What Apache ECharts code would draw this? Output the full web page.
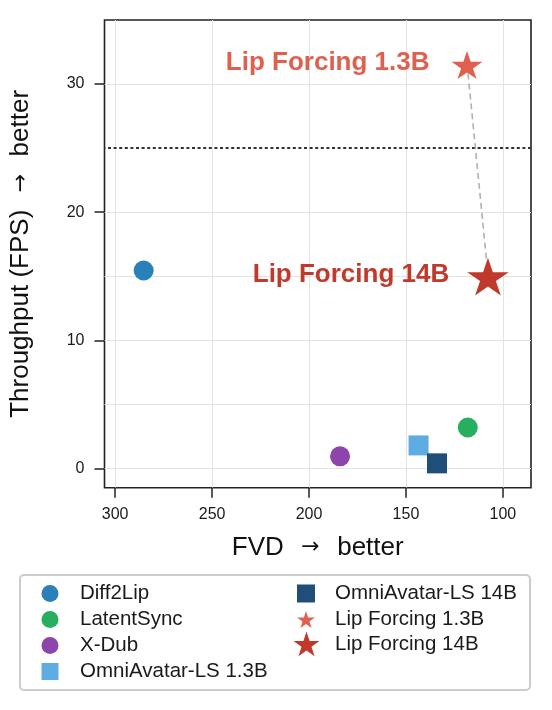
<!DOCTYPE html>
<html>
<head>
<meta charset="utf-8">
<script src="https://cdn.jsdelivr.net/npm/echarts@6/dist/echarts.min.js"></script>
<style>
  html, body { margin: 0; padding: 0; background: #fff; }
  #chart { width: 552px; height: 710px; }
</style>
</head>
<body>
<div id="chart"></div>
<script>
// ---- data ----
const methods = ['Diff2Lip', 'LatentSync', 'X-Dub', 'OmniAvatar-LS 1.3B', 'OmniAvatar-LS 14B', 'Lip Forcing 1.3B', 'Lip Forcing 14B'];
const fvd = [285.3, 118.1, 184.0, 143.5, 134.0, 118.5, 107.7];
const fps = [15.45, 3.2, 0.95, 1.8, 0.4, 31.6, 15.13];
const xTicks = [300, 250, 200, 150, 100];
const yTicks = [0, 10, 20, 30];
const yGridValues = [0, 5, 10, 15, 20, 25, 30];
const realtimeFps = 25;
const xTitle = 'FVD  {arr|\u2192}  better';
const yTitle = 'Throughput (FPS)  {arr|\u2192}  better';

// ---- styling ----
const FONT = 'Liberation Sans, Arial, Helvetica, sans-serif';
function starPath() {
  const pts = [];
  for (let i = 0; i < 10; i++) {
    const r = i % 2 === 0 ? 100 : 38.1966;
    const a = -Math.PI / 2 + i * Math.PI / 5;
    pts.push((r * Math.cos(a)).toFixed(3) + ',' + (r * Math.sin(a)).toFixed(3));
  }
  return 'path://M' + pts.join(' L') + ' Z';
}
const STAR = starPath();
const styles = {
  'Diff2Lip':           { color: '#2a80b9', symbol: 'circle', size: 20, legendIcon: 'circle' },
  'LatentSync':         { color: '#27ae60', symbol: 'circle', size: 20, legendIcon: 'circle' },
  'X-Dub':              { color: '#8e44ad', symbol: 'circle', size: 20, legendIcon: 'circle' },
  'OmniAvatar-LS 1.3B': { color: '#5dade2', symbol: 'rect', size: 20, legendIcon: 'rect' },
  'OmniAvatar-LS 14B':  { color: '#1f4e79', symbol: 'rect', size: 20, legendIcon: 'rect' },
  'Lip Forcing 1.3B':   { color: '#e0604f', symbol: STAR, size: [31, 29.5], offset: [0, 1.5], legendIcon: STAR,
                          label: { distance: 22, offset: [0, -2] } },
  'Lip Forcing 14B':    { color: '#c0392b', symbol: STAR, size: [41.5, 39.5], offset: [0, 2], legendIcon: STAR,
                          label: { distance: 18, offset: [0, -1.5] } }
};
const arrowRich = { arr: { fontFamily: 'DejaVu Sans', fontSize: 22, color: '#111', padding: [0, 3, 0, 3] } };

const chart = echarts.init(document.getElementById('chart'), null, { renderer: 'canvas' });

const series = [];
// grid lines
series.push({
  type: 'line',
  name: '__grid',
  data: [],
  silent: true,
  markLine: {
    silent: true,
    z: 0,
    symbol: ['none', 'none'],
    label: { show: false },
    lineStyle: { color: '#e3e3e3', width: 1, type: 'solid' },
    emphasis: { disabled: true },
    data: xTicks.map(v => ({ xAxis: v })).concat(yGridValues.filter(v => v !== realtimeFps).map(v => ({ yAxis: v })))
  }
});
// real-time threshold line
series.push({
  type: 'line',
  name: '__threshold',
  data: [],
  silent: true,
  markLine: {
    silent: true,
    z: 1,
    symbol: ['none', 'none'],
    label: { show: false },
    lineStyle: { color: '#333333', width: 2.2, type: [3, 2.6] },
    emphasis: { disabled: true },
    data: [{ yAxis: realtimeFps }]
  }
});
// dashed connector between the two Lip Forcing models
const i13 = methods.indexOf('Lip Forcing 1.3B');
const i14 = methods.indexOf('Lip Forcing 14B');
series.push({
  type: 'line',
  name: '__connector',
  data: [[fvd[i13], fps[i13]], [fvd[i14], fps[i14]]],
  symbol: 'none',
  silent: true,
  z: 2,
  lineStyle: { color: '#b0b0b0', width: 1.6, type: [6, 4] }
});
methods.forEach((m, i) => {
  const st = styles[m];
  const s = {
    type: 'scatter',
    name: m,
    z: 3,
    data: [[fvd[i], fps[i]]],
    symbol: st.symbol,
    symbolSize: st.size,
    symbolKeepAspect: true,
    itemStyle: { color: st.color, opacity: 1 },
    emphasis: { disabled: true }
  };
  if (st.offset) s.symbolOffset = st.offset;
  if (st.label) {
    s.label = {
      show: true,
      position: 'left',
      distance: st.label.distance,
      offset: st.label.offset,
      formatter: m,
      color: st.color,
      fontSize: 26,
      fontWeight: 'bold',
      fontFamily: FONT
    };
  }
  series.push(s);
});

const legendText = { fontSize: 20.5, color: '#1a1a1a', fontFamily: FONT };
function legendData(names) {
  return names.map(n => ({ name: n, icon: styles[n].legendIcon }));
}

const option = {
  animation: false,
  backgroundColor: '#ffffff',
  textStyle: { fontFamily: FONT },
  grid: {
    left: 104, right: 21, top: 20, bottom: 222.3,
    show: true, borderColor: '#222222', borderWidth: 1.6, backgroundColor: 'transparent'
  },
  xAxis: {
    type: 'value',
    min: 85.5, max: 305.5,
    inverse: true,
    name: xTitle,
    nameLocation: 'middle',
    nameGap: 47,
    nameTextStyle: { fontSize: 26, color: '#111', fontFamily: FONT, rich: arrowRich },
    axisLine: { show: false, onZero: false },
    splitLine: { show: false },
    axisTick: { show: true, customValues: xTicks, length: 10, lineStyle: { color: '#222', width: 1.5 } },
    axisLabel: { customValues: xTicks, fontSize: 16, color: '#1a1a1a', margin: 19, fontFamily: FONT }
  },
  yAxis: {
    type: 'value',
    min: -1.5, max: 35,
    name: yTitle,
    nameLocation: 'middle',
    nameGap: 70.5,
    nameTextStyle: { fontSize: 26, color: '#111', fontFamily: FONT, rich: arrowRich },
    axisLine: { show: false, onZero: false },
    splitLine: { show: false },
    axisTick: { show: true, customValues: yTicks, length: 10, lineStyle: { color: '#222', width: 1.5 } },
    axisLabel: { customValues: yTicks, fontSize: 16, color: '#1a1a1a', margin: 20, fontFamily: FONT }
  },
  graphic: [{
    type: 'rect',
    z: -1,
    silent: true,
    shape: { x: 20, y: 575, width: 510, height: 115, r: 4 },
    style: { fill: '#ffffff', stroke: '#cccccc', lineWidth: 2 }
  }],
  legend: [
    {
      orient: 'vertical', left: 41.5, top: 583, padding: 0, itemGap: 5,
      itemWidth: 17, itemHeight: 17,
      textStyle: Object.assign({ padding: [0, 0, 0, 16.5] }, legendText),
      data: legendData(['Diff2Lip', 'LatentSync', 'X-Dub', 'OmniAvatar-LS 1.3B'])
    },
    {
      orient: 'vertical', left: 297, top: 583, padding: 0, itemGap: 5,
      itemWidth: 18, itemHeight: 18,
      textStyle: Object.assign({ padding: [0, 0, 0, 15] }, legendText),
      data: legendData(['OmniAvatar-LS 14B', 'Lip Forcing 1.3B'])
    },
    {
      orient: 'vertical', left: 293.5, top: 631.5, padding: 0, itemGap: 5,
      itemWidth: 26, itemHeight: 25,
      textStyle: Object.assign({ padding: [0, 0, 0, 10.5] }, legendText),
      data: legendData(['Lip Forcing 14B'])
    }
  ],
  series: series
};
chart.setOption(option);
</script>
</body>
</html>
